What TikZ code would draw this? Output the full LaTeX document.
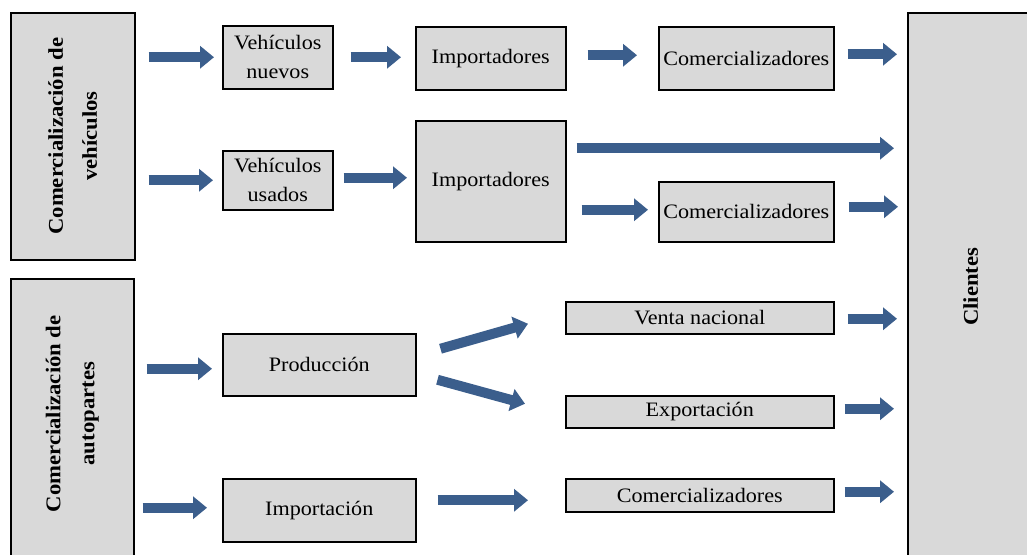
\documentclass[tikz,border=0pt]{standalone}
\usepackage{fontspec}
\setmainfont{Liberation Serif}[FakeStretch=1.08]
\usetikzlibrary{arrows.meta,calc}
\definecolor{boxgray}{HTML}{D9D9D9}
\definecolor{arrowblue}{HTML}{3B5E8C}
\begin{document}
\begin{tikzpicture}[x=1pt,y=-1pt,
  box/.style={draw=black, line width=1.5pt, fill=boxgray, inner sep=0pt, align=center, anchor=north west, font=\fontsize{20.5}{29}\selectfont},
  vtext/.style={rotate=90, align=center, inner sep=0pt, font=\fontsize{21}{34}\selectfont\bfseries},
  barrow/.style={draw=arrowblue, line width=10pt, -{Triangle[width=22pt,length=14pt]}}]
\useasboundingbox (0,0) rectangle (1027,554);
\clip (0,0) rectangle (1027,554);
% big side boxes
\node[box, minimum width=124pt, minimum height=247pt] (cv) at (10,12) {};
\node[vtext] (cvt) at (cv.center) {Comercialización de\\vehículos};
\node[box, minimum width=123pt, minimum height=280pt] (ca) at (10,278) {};
\node[vtext] (cat) at ($(ca.center)+(0,-5)$) {Comercialización de\\autopartes};
\node[box, minimum width=126pt, minimum height=548pt] (cli) at (907,12) {};
\node[vtext] (clit) at (cli.center) {Clientes};
% upper boxes
\node[box, minimum width=110pt, minimum height=63pt] (vn) at (222,25) {Vehículos\\nuevos};
\node[box, minimum width=150pt, minimum height=63pt] (imp1) at (415,26) {Importadores};
\node[box, minimum width=175pt, minimum height=63pt] (com1) at (658,26) {Comercializadores};
\node[box, minimum width=110pt, minimum height=59pt] (vu) at (222,150) {Vehículos\\usados};
\node[box, minimum width=150pt, minimum height=121pt] (imp2) at (415,120) {Importadores};
\node[box, minimum width=175pt, minimum height=60pt] (com2) at (658,181) {Comercializadores};
% lower boxes
\node[box, minimum width=193pt, minimum height=62pt] (prod) at (222,333) {Producción};
\node[box, minimum width=193pt, minimum height=63pt] (impn) at (222,478) {Importación};
\node[box, minimum width=268pt, minimum height=32pt] (vn2) at (565,301) {Venta nacional};
\node[box, minimum width=268pt, minimum height=32pt] (exp) at (565,395) {Exportación};
\node[box, minimum width=268pt, minimum height=33pt] (com3) at (565,478) {Comercializadores};
% arrows, vehicles
\draw[barrow, shorten <=13pt, shorten >=8pt] (cv.east |- vn.west) -- (vn.west);
\draw[barrow, shorten <=17pt, shorten >=14pt] (vn.east) -- (vn.east -| imp1.west);
\draw[barrow, shorten <=21pt, shorten >=21pt] ($(imp1.east)+(0,-3)$) -- ($(imp1.east -| com1.west)+(0,-3)$);
\draw[barrow, shorten <=13pt, shorten >=10pt] ($(com1.east)+(0,-4)$) -- ($(com1.east -| cli.west)+(0,-4)$);
\draw[barrow, shorten <=10pt, shorten >=13pt] ($(imp2.east)+(0,-33)$) -- ($(imp2.east -| cli.west)+(0,-33)$);
\draw[barrow, shorten <=13pt, shorten >=9pt] (cv.east |- vu.west) -- (vu.west);
\draw[barrow, shorten <=10pt, shorten >=8pt] ($(vu.east)+(0,-2.5)$) -- ($(vu.east -| imp2.west)+(0,-2.5)$);
\draw[barrow, shorten <=15pt, shorten >=10pt] ($(com2.west -| imp2.east)+(0,-2)$) -- ($(com2.west)+(0,-2)$);
\draw[barrow, shorten <=14pt, shorten >=9pt] ($(com2.east)+(0,-5)$) -- ($(com2.east -| cli.west)+(0,-5)$);
% arrows, autoparts
\draw[barrow, shorten <=12pt, shorten >=10pt] ($(ca.east |- prod.west)+(0,4)$) -- ($(prod.west)+(0,4)$);
\draw[barrow] ($(prod.east)+(24,-16)$) -- ($(vn2.west)+(-37,6)$);
\draw[barrow] ($(prod.east)+(21,15)$) -- ($(exp.west)+(-40,-8)$);
\draw[barrow, shorten <=13pt, shorten >=10pt] ($(vn2.east)+(0,1)$) -- ($(vn2.east -| cli.west)+(0,1)$);
\draw[barrow, shorten <=10pt, shorten >=13pt] ($(exp.east)+(0,-3)$) -- ($(exp.east -| cli.west)+(0,-3)$);
\draw[barrow, shorten <=8pt, shorten >=15pt] ($(ca.east |- impn.west)+(0,-2.5)$) -- ($(impn.west)+(0,-2.5)$);
\draw[barrow, shorten <=21pt, shorten >=37pt] ($(impn.east)+(0,-10)$) -- ($(impn.east -| com3.west)+(0,-10)$);
\draw[barrow, shorten <=10pt, shorten >=13pt] ($(com3.east)+(0,-3.5)$) -- ($(com3.east -| cli.west)+(0,-3.5)$);
\end{tikzpicture}
\end{document}
